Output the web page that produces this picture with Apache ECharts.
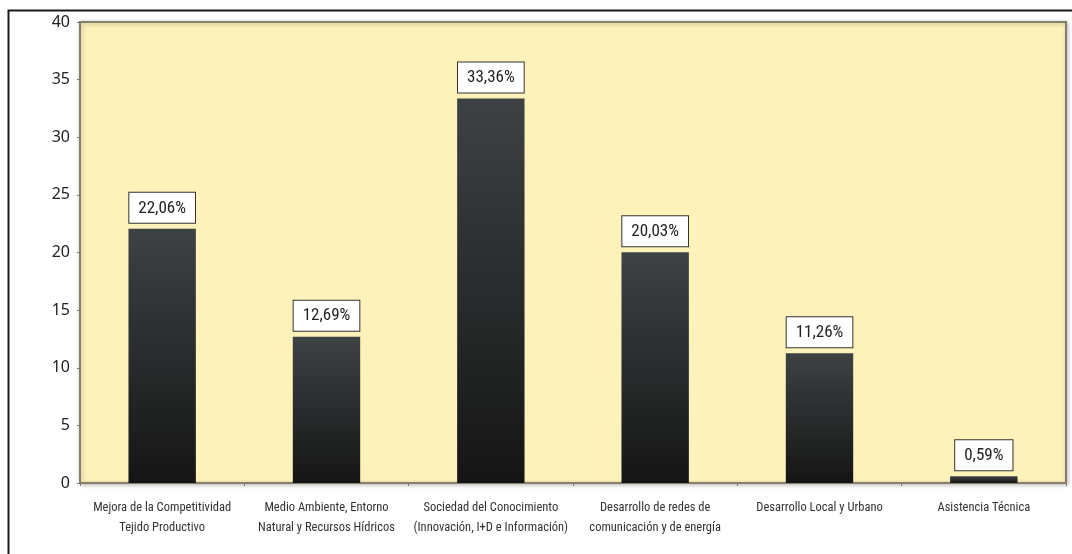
<!DOCTYPE html>
<html><head><meta charset="utf-8">
<script src="https://cdn.jsdelivr.net/npm/echarts@6/dist/echarts.min.js"></script>
<style>html,body{margin:0;padding:0;background:#fff}#c{width:1072px;height:554px}</style>
</head><body><div id="c"></div>
<script>
var categories = [
  "Mejora de la Competitividad\nTejido Productivo",
  "Medio Ambiente, Entorno\nNatural y Recursos Hídricos",
  "Sociedad del Conocimiento\n(Innovación, I+D e Información)",
  "Desarrollo de redes de\ncomunicación y de energía",
  "Desarrollo Local y Urbano",
  "Asistencia Técnica"
];
var values = [22.06, 12.69, 33.36, 20.03, 11.26, 0.59];
var labelTexts = ["22,06%", "12,69%", "33,36%", "20,03%", "11,26%", "0,59%"];

var font = "'Roboto Condensed', 'DejaVu Sans Condensed', sans-serif";
var chart = echarts.init(document.getElementById('c'));
chart.setOption({
  animation: false,
  backgroundColor: '#fff',
  graphic: [{
    type: 'rect', z: -10, silent: true,
    shape: {x: 8.5, y: 10.5, width: 1080, height: 560},
    style: {fill: 'none', stroke: '#1a1a1a', lineWidth: 2}
  }],
  grid: {
    left: 80, top: 22, right: 6, bottom: 71,
    show: true, backgroundColor: '#fdf2b9', borderColor: '#877e6c', borderWidth: 2,
    shadowColor: 'rgba(0,0,0,0.25)', shadowBlur: 4, shadowOffsetX: 1, shadowOffsetY: 1
  },
  xAxis: {
    type: 'category', data: categories,
    axisLine: {show: true, lineStyle: {color: '#877e6c', width: 2}},
    axisTick: {show: true, length: 3, lineStyle: {color: '#777'}},
    axisLabel: {color: '#333', fontFamily: font, fontSize: 12.5, lineHeight: 20, margin: 15, interval: 0}
  },
  yAxis: {
    type: 'value', min: 0, max: 40, interval: 5,
    axisLine: {show: true, lineStyle: {color: '#877e6c', width: 2}},
    axisTick: {show: true, length: 3, lineStyle: {color: '#777'}},
    splitLine: {show: false},
    axisLabel: {color: '#222', fontFamily: "'Noto Sans', sans-serif", fontSize: 16, margin: 10}
  },
  series: [{
    type: 'bar', data: values, barWidth: '41%',
    itemStyle: {
      color: new echarts.graphic.LinearGradient(0, 0, 0, 1, [
        {offset: 0, color: '#3d4244'},
        {offset: 1, color: '#151515'}
      ])
    },
    label: {
      show: true, position: 'top', distance: 6,
      formatter: function (p) { return labelTexts[p.dataIndex]; },
      color: '#222', fontFamily: font, fontSize: 17,
      backgroundColor: '#fff', borderColor: '#333', borderWidth: 1,
      padding: [7, 9, 6, 9]
    }
  }]
});
</script></body></html>
